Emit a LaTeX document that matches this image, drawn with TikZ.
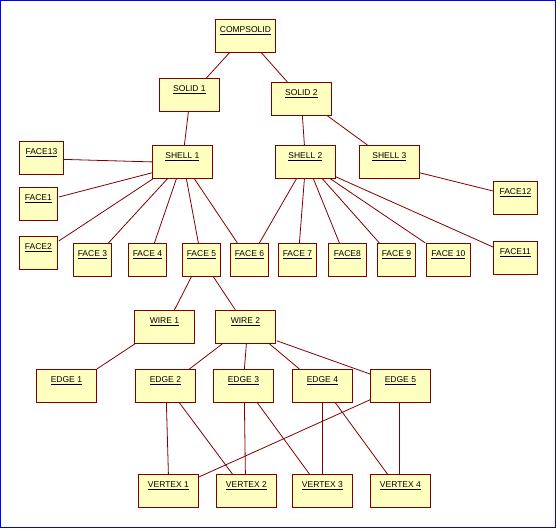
\documentclass[tikz,border=0pt]{standalone}
\usepackage{fontspec}
\setsansfont{Liberation Sans}
\usepackage{tikz}
\usetikzlibrary{calc}
\definecolor{maroon}{HTML}{800000}
\definecolor{paleyellow}{HTML}{FFFFC0}
\definecolor{frameblue}{HTML}{0000FF}
\tikzset{
  box/.style={
    draw=maroon, fill=paleyellow, line width=0.8pt, anchor=north west,
    inner xsep=0pt, inner ysep=0pt, text height=13pt, text depth=20pt,
    font=\sffamily\fontsize{8.5}{10}\selectfont
  },
  entity/.style={box, minimum width=60pt},
  face/.style={box, minimum width=38pt},
  wideface/.style={box, minimum width=44pt},
  link/.style={draw=maroon, line width=0.8pt},
  frame/.style={draw=frameblue, line width=1pt}
}
\begin{document}
\begin{tikzpicture}[x=1pt,y=-1pt]
  \useasboundingbox (0,0) rectangle (556,528);
  \draw[frame] (0.5,0.5) rectangle (555.5,527.5);

  \node[entity] (compsolid) at (215,19) {\underline{COMPSOLID}};
  \node[entity] (solid1) at (159,78) {\underline{SOLID 1}};
  \node[entity] (solid2) at (271,82) {\underline{SOLID 2}};

  \node[wideface] (face13) at (19,141) {\underline{FACE13}};
  \node[entity] (shell1) at (152,145) {\underline{SHELL 1}};
  \node[entity] (shell2) at (275,145) {\underline{SHELL 2}};
  \node[entity] (shell3) at (359,145) {\underline{SHELL 3}};

  \node[face] (face1) at (19,187) {\underline{FACE1}};
  \node[face] (face2) at (19,236) {\underline{FACE2}};
  \node[wideface] (face12) at (493,181) {\underline{FACE12}};
  \node[face] (face3) at (73,243) {\underline{FACE 3}};
  \node[face] (face4) at (128,243) {\underline{FACE 4}};
  \node[face] (face5) at (182,243) {\underline{FACE 5}};
  \node[face] (face6) at (230,243) {\underline{FACE 6}};
  \node[face] (face7) at (278,243) {\underline{FACE 7}};
  \node[face] (face8) at (328,243) {\underline{FACE8}};
  \node[face] (face9) at (377,243) {\underline{FACE 9}};
  \node[wideface] (face10) at (426,243) {\underline{FACE 10}};
  \node[wideface] (face11) at (493,241) {\underline{FACE11}};

  \node[entity] (wire1) at (134,310) {\underline{WIRE 1}};
  \node[entity] (wire2) at (215,310) {\underline{WIRE 2}};

  \node[entity] (edge1) at (36,369) {\underline{EDGE 1}};
  \node[entity] (edge2) at (135,369) {\underline{EDGE 2}};
  \node[entity] (edge3) at (213,369) {\underline{EDGE 3}};
  \node[entity] (edge4) at (292,369) {\underline{EDGE 4}};
  \node[entity] (edge5) at (370,369) {\underline{EDGE 5}};

  \node[entity] (vertex1) at (138,474) {\underline{VERTEX 1}};
  \node[entity] (vertex2) at (216,474) {\underline{VERTEX 2}};
  \node[entity] (vertex3) at (292,474) {\underline{VERTEX 3}};
  \node[entity] (vertex4) at (370,474) {\underline{VERTEX 4}};

  \draw[link] ($(compsolid.south)+(-16,0)$) -- ($(solid1.north)+(17,0)$);
  \draw[link] ($(compsolid.south)+(16,0)$) -- ($(solid2.north)+(-14,0)$);
  \draw[link] ($(solid1.south)+(-1,0)$) -- ($(shell1.north)+(2,0)$);
  \draw[link] ($(solid2.south)+(1,0)$) -- ($(shell2.north)+(-1,0)$);
  \draw[link] ($(solid2.south)+(26,0)$) -- ($(shell3.north)+(-22,0)$);

  \draw[link] ($(face13.east)+(0,1.5)$) -- (shell1.west);
  \draw[link] ($(shell1.south west)+(0,-6)$) -- ($(face1.north east)+(1,10)$);
  \draw[link] ($(shell1.south west)+(1,0)$) -- ($(face2.north east)+(1,5)$);
  \foreach \child/\from/\to in {face3/-15/16, face4/-6/7, face5/4/-3, face6/12/-12} {
    \draw[link] ($(shell1.south)+(\from,0)$) -- ($(\child.north)+(\to,0)$);
  }
  \foreach \child/\from/\to in {face6/-9/10, face7/-1/2, face8/8/-8, face9/17/-17, face10/25/-23} {
    \draw[link] ($(shell2.south)+(\from,0)$) -- ($(\child.north)+(\to,0)$);
  }
  \draw[link] ($(shell2.south east)+(0,-2)$) -- ($(face11.north west)+(0,6)$);
  \draw[link] ($(shell3.south east)+(0,-6)$) -- ($(face12.north west)+(0,10)$);

  \draw[link] ($(face5.south)+(-10,0)$) -- ($(wire1.north)+(10,0)$);
  \draw[link] ($(face5.south)+(12,0)$) -- ($(wire2.north)+(-10,0)$);
  \draw[link] ($(wire1.south west)+(1,0)$) -- (edge1.north east);
  \foreach \child/\from/\to in {edge2/-23/24, edge3/1/1, edge4/24/-23} {
    \draw[link] ($(wire2.south)+(\from,0)$) -- ($(\child.north)+(\to,0)$);
  }
  \draw[link] ($(wire2.south east)+(1,-3)$) -- ($(edge5.north west)+(0,5)$);

  \foreach \parent/\child/\from/\to in {edge2/vertex1/1/0, edge2/vertex2/14/-14, edge3/vertex2/1/-1,
      edge3/vertex3/14/-13, edge4/vertex3/0/0, edge4/vertex4/13/-13, edge5/vertex4/-1/-1} {
    \draw[link] ($(\parent.south)+(\from,0)$) -- ($(\child.north)+(\to,0)$);
  }
  \draw[link] ($(edge5.south west)+(0,-3)$) -- ($(vertex1.north east)+(0,3)$);
\end{tikzpicture}
\end{document}
